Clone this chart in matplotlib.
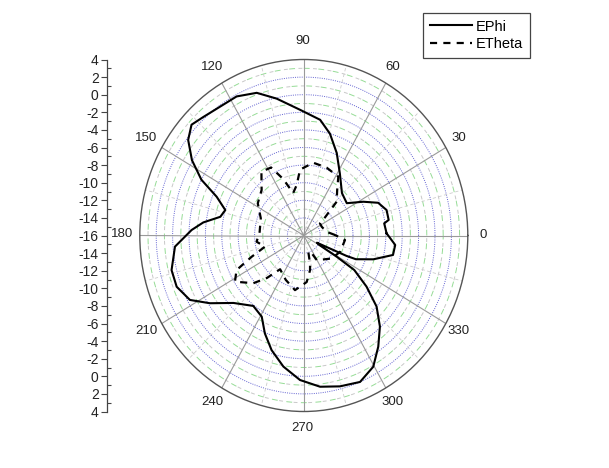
import numpy as np
import matplotlib
matplotlib.use("Agg")
import matplotlib.pyplot as plt
from matplotlib.lines import Line2D

plt.rcParams['font.family'] = ['Liberation Sans', 'DejaVu Sans']

# Far-field pattern, angle in degrees and level in dB
ephi_angle = [1.4, 8.0, 9.7, 16.0, 22.3, 27.9, 35.0, 46.0, 58.0, 66.8, 74.6, 81.4,
              91.9, 102.0, 109.5, 117.4, 124.9, 132.2, 137.4, 142.4, 147.9, 153.1,
              157.5, 163.2, 168.2, 173.1, 177.4, 184.6, 193.7, 200.6, 207.8, 213.9,
              221.8, 232.4, 240.9, 246.9, 253.2, 260.5, 268.4, 276.6, 284.4, 292.4,
              299.6, 305.7, 311.9, 317.7, 322.8, 327.5, 329.0, 330.5, 333.0, 336.0,
              337.0, 342.3, 348.5, 354.5]
ephi_db = [-5.9, -6.1, -5.5, -5.5, -6.2, -7.8, -9.6, -9.3, -7.7, -5.8, -4.0, -2.7,
           -1.7, -0.1, 1.2, 1.8, 1.85, 2.2, 2.6, 1.8, 0.1, -2.0,
           -4.5, -6.0, -5.6, -3.65, -2.3, -0.24, 0.6, 0.56, -0.3, -2.2,
           -4.5, -5.9, -5.45, -3.9, -2.4, -0.9, 0.43, 1.3, 1.7, 2.0,
           1.15, -0.44, -2.1, -4.0, -6.4, -8.7, -11.3, -13.9, -14.2, -10.3,
           -9.1, -7.1, -4.9, -4.8]

etheta_angle = [0.9, 8.8, 24.6, 35.0, 38.5, 43.8, 51.9, 57.8, 70.2, 82.0, 93.5, 98.6,
                105.0, 111.4, 117.3, 125.5, 134.8, 146.9, 159.5, 175.4, 187.0, 195.0,
                200.8, 205.6, 212.0, 221.4, 227.0, 233.0, 246.4, 260.2, 273.8, 281.0,
                283.5, 286.6, 295.4, 299.5, 305.5, 322.7, 337.4, 354.2]
etheta_db = [-12.2, -13.2, -13.6, -13.6, -12.7, -10.45, -9.4, -8.1, -7.8, -7.65, -8.5, -10.2,
             -11.0, -9.1, -7.3, -7.1, -8.7, -9.3, -10.4, -10.6, -10.2, -11.1,
             -9.2, -6.9, -6.1, -7.8, -9.4, -11.2, -10.5, -9.7, -10.7, -12.0,
             -12.75, -14.1, -13.8, -12.8, -12.6, -11.7, -11.2, -10.95]

angle_labels = list(range(0, 360, 30))
r_min, r_max = -16, 4

W, H = 609, 468
fig = plt.figure(figsize=(W / 100, H / 100), dpi=100)
fig.patch.set_facecolor('white')

cx, cy, rx, ry = 303.8, 235.5, 164.0, 176.0
box = [(cx - rx) / W, 1 - (cy + ry) / H, 2 * rx / W, 2 * ry / H]
ax = fig.add_axes(box, projection='polar')
ax.set_aspect('auto')
ax.set_ylim(r_min, r_max)
ax.grid(False)
ax.set_yticks([])
ax.set_xticks(np.deg2rad(np.arange(0, 360, 15)))
ax.set_xticklabels([])
ax.tick_params(axis='x', direction='in', length=4, width=0.8, colors='#505050')
ax.spines['polar'].set_color('#555555')
ax.spines['polar'].set_linewidth(1.0)

# ring grid: dotted blue every 2 dB, light dashed rings between
t = np.linspace(0, 2 * np.pi, 721)
for v in range(r_min + 2, r_max, 2):
    ax.plot(t, np.full_like(t, v), color='#6464d2', ls=(0, (1, 1.3)), lw=0.7, zorder=1)
for v in range(r_min + 1, r_max, 2):
    ax.plot(t, np.full_like(t, v), color='#96dc96', ls=(0, (6, 9)), lw=0.7, zorder=1)
    ax.plot(t, np.full_like(t, v), color='#c8c8c8', ls=(7.5, (4, 11)), lw=0.7, zorder=1)

# spokes
for a in range(0, 360, 30):
    ax.plot([np.deg2rad(a)] * 2, [r_min, r_max], color='#9a9a9a', lw=0.8, zorder=2)
for a in range(15, 360, 30):
    ax.plot([np.deg2rad(a)] * 2, [r_min, r_max], color='#cccccc', lw=0.6,
            ls=(0, (4, 3)), zorder=1)

# pattern curves
pa = np.deg2rad(ephi_angle + [ephi_angle[0] + 360])
pv = ephi_db + [ephi_db[0]]
ax.plot(pa, pv, color='black', lw=1.5, zorder=5, solid_joinstyle='round')
ta = np.deg2rad(etheta_angle + [etheta_angle[0] + 360])
tv = etheta_db + [etheta_db[0]]
ax.plot(ta, tv, color='black', lw=1.6, ls=(0, (3.2, 2.8)), zorder=5)

# angle labels around the rim
for a in angle_labels:
    r = np.deg2rad(a)
    ax.annotate(str(a), xy=(r, r_max), xytext=(np.cos(r) * 16.5 - 1.5, np.sin(r) * 17.5 + 1.0),
                textcoords='offset pixels', ha='center', va='center', fontsize=9.5,
                color='#222222', annotation_clip=False)

# radial dB scale on the left
ax2 = fig.add_axes([107 / W, box[1], 0.0005, box[3]])
ax2.patch.set_visible(False)
for s in ('top', 'right', 'bottom'):
    ax2.spines[s].set_visible(False)
ax2.spines['left'].set_color('#444444')
ax2.spines['left'].set_linewidth(0.9)
ax2.set_xticks([])
ax2.set_ylim(-(r_max - r_min), r_max - r_min)
major = list(range(-(r_max - r_min), r_max - r_min + 1, 2))
ax2.set_yticks(major)
ax2.set_yticklabels([str(abs(v) + r_min) for v in major])
ax2.set_yticks(list(range(-(r_max - r_min) + 1, r_max - r_min, 2)), minor=True)
ax2.tick_params(axis='y', which='major', direction='out', length=4, width=0.8,
                colors='#444444', labelsize=10, labelcolor='#222222', pad=2)
ax2.tick_params(axis='y', which='minor', direction='in', length=3, width=0.8, colors='#444444')

handles = [Line2D([], [], color='black', lw=1.5),
           Line2D([], [], color='black', lw=1.6, ls=(0, (3.2, 2.8)))]
leg = fig.legend(handles, ['EPhi', 'ETheta'], loc='upper left',
                 bbox_to_anchor=(423 / W, 1 - 13 / H), frameon=True, fancybox=False,
                 edgecolor='#444444', framealpha=1, fontsize=10.5, handlelength=2.9,
                 handletextpad=0.3, borderpad=0.45, labelspacing=0.25, borderaxespad=0)
leg.get_frame().set_linewidth(0.9)

fig.savefig('out.png', dpi=100, facecolor='white')
